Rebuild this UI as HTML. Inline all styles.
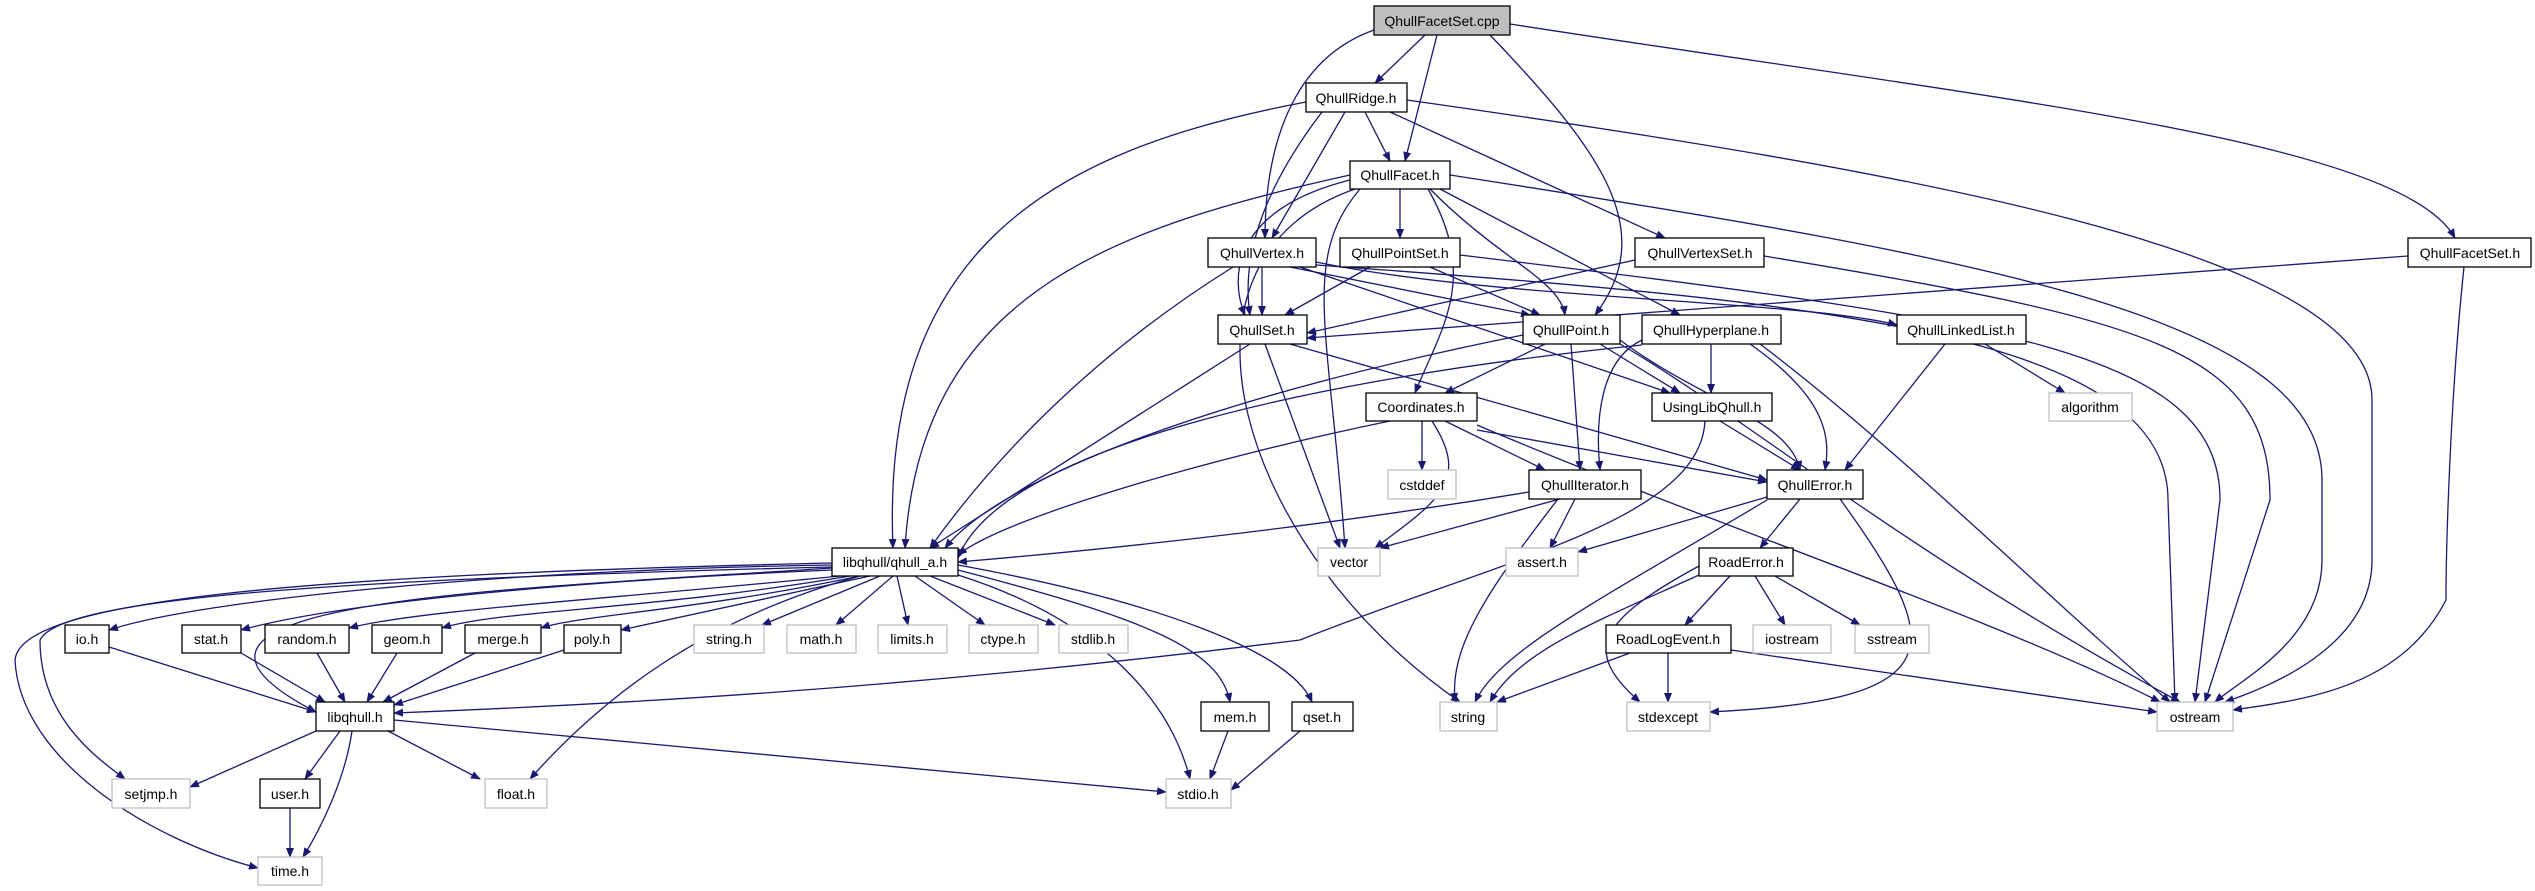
<!DOCTYPE html>
<html><head><meta charset="utf-8"><style>
html,body{margin:0;padding:0;background:#fff;}
svg{display:block;}
text{font-family:"Liberation Sans",sans-serif;font-size:14px;fill:#000;}
.e{fill:none;stroke:#191970;stroke-width:1.3;marker-end:url(#a);}
.n{fill:#fff;stroke:#000;stroke-width:1.3;}
.g{fill:#fff;stroke:#bfbfbf;stroke-width:1.3;}
</style></head><body>
<svg width="2535" height="891" viewBox="0 0 2535 891" xmlns="http://www.w3.org/2000/svg">
<defs><marker id="a" markerWidth="10" markerHeight="8" refX="9" refY="4" orient="auto" markerUnits="userSpaceOnUse"><path d="M0,0 L10,4 L0,8 z" fill="#191970"/></marker></defs>
<g>
<path class="e" d="M1425 35 L1375 83"/>
<path class="e" d="M1437 35 L1405 161"/>
<path class="e" d="M1374 30 C1290 60 1265 150 1265 238"/>
<path class="e" d="M1490 35 C1600 150 1660 230 1595 315"/>
<path class="e" d="M1510 24 C2000 100 2400 140 2455 238"/>
<path class="e" d="M1365 112 L1390 161"/>
<path class="e" d="M1345 112 L1272 238"/>
<path class="e" d="M1322 112 C1270 180 1240 250 1250 315"/>
<path class="e" d="M1390 112 L1665 238"/>
<path class="e" d="M1306 102 C1050 150 880 250 893 548"/>
<path class="e" d="M1407 100 C1900 170 2372 250 2372 400 L2372 560 C2372 650 2260 690 2225 702"/>
<path class="e" d="M1400 189 L1400 238"/>
<path class="e" d="M1430 189 C1500 260 1560 280 1565 315"/>
<path class="e" d="M1440 189 L1680 315"/>
<path class="e" d="M1428 189 C1480 280 1440 330 1415 393"/>
<path class="e" d="M1350 180 C1230 210 1230 280 1245 315"/>
<path class="e" d="M1350 175 C1100 230 920 300 905 548"/>
<path class="e" d="M1360 189 C1300 260 1330 330 1345 548"/>
<path class="e" d="M1355 189 C1150 260 1240 550 1460 702"/>
<path class="e" d="M1450 175 C2000 260 2322 320 2322 480 L2322 560 C2322 640 2240 680 2215 702"/>
<path class="e" d="M1262 267 L1262 315"/>
<path class="e" d="M1290 267 L1530 315"/>
<path class="e" d="M1300 267 L1670 393"/>
<path class="e" d="M1316 262 C1500 300 1800 300 1897 325"/>
<path class="e" d="M1233 267 C1100 350 1000 450 930 548"/>
<path class="e" d="M1316 265 C1800 300 2168 330 2168 500 L2175 702"/>
<path class="e" d="M1370 267 L1285 315"/>
<path class="e" d="M1430 267 L1540 315"/>
<path class="e" d="M1460 255 C2000 320 2220 350 2220 500 L2195 702"/>
<path class="e" d="M1635 260 L1307 333"/>
<path class="e" d="M1764 256 C2150 320 2270 350 2270 500 L2205 702"/>
<path class="e" d="M2408 256 L1307 338"/>
<path class="e" d="M2464 267 C2450 400 2446 550 2446 600 C2400 690 2300 700 2233 710"/>
<path class="e" d="M1250 344 L930 548"/>
<path class="e" d="M1265 344 L1340 548"/>
<path class="e" d="M1290 344 L1767 480"/>
<path class="e" d="M1545 344 L1445 393"/>
<path class="e" d="M1571 344 L1580 470"/>
<path class="e" d="M1600 344 L1680 393"/>
<path class="e" d="M1620 340 C1700 400 1790 420 1800 470"/>
<path class="e" d="M1523 335 C1200 400 1000 480 945 548"/>
<path class="e" d="M1620 344 C1750 420 1900 550 2180 702"/>
<path class="e" d="M1711 344 L1711 393"/>
<path class="e" d="M1642 340 C1600 360 1595 420 1600 470"/>
<path class="e" d="M1750 344 C1830 400 1830 440 1825 470"/>
<path class="e" d="M1642 345 C1300 380 1000 450 958 558"/>
<path class="e" d="M1760 344 C1900 450 2050 600 2170 702"/>
<path class="e" d="M1985 344 L2065 393"/>
<path class="e" d="M1945 344 L1845 470"/>
<path class="e" d="M1422 421 L1422 470"/>
<path class="e" d="M1445 421 L1545 470"/>
<path class="e" d="M1477 430 L1767 482"/>
<path class="e" d="M1432 421 C1470 480 1440 500 1375 548"/>
<path class="e" d="M1390 421 C1200 460 1000 520 958 555"/>
<path class="e" d="M1477 425 C1700 520 2000 620 2160 702"/>
<path class="e" d="M1720 421 L1800 470"/>
<path class="e" d="M1705 421 C1700 520 1500 560 1300 640 C900 690 600 705 394 713"/>
<path class="e" d="M1560 499 L1380 548"/>
<path class="e" d="M1575 499 L1550 548"/>
<path class="e" d="M1558 499 C1480 600 1450 650 1455 702"/>
<path class="e" d="M1529 492 C1300 530 1100 550 958 562"/>
<path class="e" d="M1800 499 L1760 548"/>
<path class="e" d="M1767 497 L1578 552"/>
<path class="e" d="M1767 500 C1600 600 1500 650 1475 702"/>
<path class="e" d="M1840 499 C1950 650 1950 700 1710 712"/>
<path class="e" d="M1730 576 L1685 625"/>
<path class="e" d="M1755 576 L1785 625"/>
<path class="e" d="M1775 576 L1860 625"/>
<path class="e" d="M1699 575 C1600 620 1520 650 1490 702"/>
<path class="e" d="M1699 566 C1600 620 1580 650 1640 702"/>
<path class="e" d="M1630 653 L1497 702"/>
<path class="e" d="M1668 653 L1668 702"/>
<path class="e" d="M1731 650 L2157 712"/>
<path class="e" d="M832 565 C500 570 200 600 109 630"/>
<path class="e" d="M832 570 C600 580 350 600 241 630"/>
<path class="e" d="M840 576 C600 600 420 610 349 628"/>
<path class="e" d="M850 576 C650 610 500 610 442 628"/>
<path class="e" d="M860 576 C700 610 580 615 541 628"/>
<path class="e" d="M870 576 L621 630"/>
<path class="e" d="M880 576 L762 625"/>
<path class="e" d="M893 576 L836 625"/>
<path class="e" d="M897 576 L908 625"/>
<path class="e" d="M915 576 L985 625"/>
<path class="e" d="M930 576 L1055 625"/>
<path class="e" d="M832 568 C500 590 100 600 316 712"/>
<path class="e" d="M958 570 C1150 620 1220 650 1230 702"/>
<path class="e" d="M958 565 C1150 600 1290 650 1312 702"/>
<path class="e" d="M958 575 C1100 620 1170 700 1190 779"/>
<path class="e" d="M860 576 C700 620 600 700 530 779"/>
<path class="e" d="M832 567 C300 580 60 600 40 640 C40 720 100 760 125 779"/>
<path class="e" d="M832 563 C300 575 20 600 15 660 C20 760 150 840 258 868"/>
<path class="e" d="M109 647 L316 712"/>
<path class="e" d="M241 653 L325 702"/>
<path class="e" d="M317 653 L345 702"/>
<path class="e" d="M397 653 L367 702"/>
<path class="e" d="M475 653 L383 702"/>
<path class="e" d="M564 650 L394 705"/>
<path class="e" d="M316 731 L190 787"/>
<path class="e" d="M340 731 L305 779"/>
<path class="e" d="M352 731 C345 780 320 830 303 857"/>
<path class="e" d="M388 731 L480 779"/>
<path class="e" d="M394 720 L1166 792"/>
<path class="e" d="M290 808 L290 857"/>
<path class="e" d="M1228 731 L1210 779"/>
<path class="e" d="M1300 731 L1231 790"/>
</g>
<g>
<rect x="1374" y="6" width="136" height="29" fill="#bfbfbf" stroke="#000" stroke-width="1.3"/><text x="1442" y="26" text-anchor="middle">QhullFacetSet.cpp</text>
<rect class="n" x="1306" y="83" width="101" height="29"/><text x="1356" y="103" text-anchor="middle">QhullRidge.h</text>
<rect class="n" x="1350" y="161" width="100" height="28"/><text x="1400" y="180" text-anchor="middle">QhullFacet.h</text>
<rect class="n" x="1208" y="238" width="108" height="29"/><text x="1262" y="258" text-anchor="middle">QhullVertex.h</text>
<rect class="n" x="1340" y="238" width="120" height="29"/><text x="1400" y="258" text-anchor="middle">QhullPointSet.h</text>
<rect class="n" x="1635" y="238" width="129" height="29"/><text x="1700" y="258" text-anchor="middle">QhullVertexSet.h</text>
<rect class="n" x="2408" y="238" width="123" height="29"/><text x="2470" y="258" text-anchor="middle">QhullFacetSet.h</text>
<rect class="n" x="1218" y="315" width="89" height="29"/><text x="1262" y="335" text-anchor="middle">QhullSet.h</text>
<rect class="n" x="1523" y="315" width="97" height="29"/><text x="1571" y="335" text-anchor="middle">QhullPoint.h</text>
<rect class="n" x="1642" y="315" width="139" height="29"/><text x="1711" y="335" text-anchor="middle">QhullHyperplane.h</text>
<rect class="n" x="1897" y="315" width="129" height="29"/><text x="1961" y="335" text-anchor="middle">QhullLinkedList.h</text>
<rect class="n" x="1366" y="393" width="111" height="28"/><text x="1421" y="412" text-anchor="middle">Coordinates.h</text>
<rect class="n" x="1652" y="393" width="120" height="28"/><text x="1712" y="412" text-anchor="middle">UsingLibQhull.h</text>
<rect class="g" x="2049" y="393" width="83" height="28"/><text x="2090" y="412" text-anchor="middle">algorithm</text>
<rect class="g" x="1388" y="470" width="68" height="29"/><text x="1422" y="490" text-anchor="middle">cstddef</text>
<rect class="n" x="1529" y="470" width="112" height="29"/><text x="1585" y="490" text-anchor="middle">QhullIterator.h</text>
<rect class="n" x="1767" y="470" width="96" height="29"/><text x="1815" y="490" text-anchor="middle">QhullError.h</text>
<rect class="n" x="832" y="548" width="126" height="28" stroke-width="2"/><text x="895" y="567" text-anchor="middle">libqhull/qhull_a.h</text>
<rect class="g" x="1318" y="548" width="62" height="28"/><text x="1349" y="567" text-anchor="middle">vector</text>
<rect class="g" x="1506" y="548" width="72" height="28"/><text x="1542" y="567" text-anchor="middle">assert.h</text>
<rect class="n" x="1699" y="548" width="94" height="28"/><text x="1746" y="567" text-anchor="middle">RoadError.h</text>
<rect class="n" x="65" y="625" width="44" height="28"/><text x="87" y="644" text-anchor="middle">io.h</text>
<rect class="n" x="182" y="625" width="59" height="28"/><text x="211" y="644" text-anchor="middle">stat.h</text>
<rect class="n" x="265" y="625" width="84" height="28"/><text x="307" y="644" text-anchor="middle">random.h</text>
<rect class="n" x="372" y="625" width="70" height="28"/><text x="407" y="644" text-anchor="middle">geom.h</text>
<rect class="n" x="465" y="625" width="76" height="28"/><text x="503" y="644" text-anchor="middle">merge.h</text>
<rect class="n" x="564" y="625" width="57" height="28"/><text x="592" y="644" text-anchor="middle">poly.h</text>
<rect class="g" x="694" y="625" width="70" height="28"/><text x="729" y="644" text-anchor="middle">string.h</text>
<rect class="g" x="787" y="625" width="69" height="28"/><text x="821" y="644" text-anchor="middle">math.h</text>
<rect class="g" x="878" y="625" width="69" height="28"/><text x="912" y="644" text-anchor="middle">limits.h</text>
<rect class="g" x="969" y="625" width="69" height="28"/><text x="1003" y="644" text-anchor="middle">ctype.h</text>
<rect class="g" x="1059" y="625" width="69" height="28"/><text x="1093" y="644" text-anchor="middle">stdlib.h</text>
<rect class="n" x="1606" y="625" width="125" height="28"/><text x="1668" y="644" text-anchor="middle">RoadLogEvent.h</text>
<rect class="g" x="1753" y="625" width="78" height="28"/><text x="1792" y="644" text-anchor="middle">iostream</text>
<rect class="g" x="1855" y="625" width="74" height="28"/><text x="1892" y="644" text-anchor="middle">sstream</text>
<rect class="n" x="316" y="702" width="78" height="29"/><text x="355" y="722" text-anchor="middle">libqhull.h</text>
<rect class="n" x="1201" y="702" width="68" height="29"/><text x="1235" y="722" text-anchor="middle">mem.h</text>
<rect class="n" x="1292" y="702" width="61" height="29"/><text x="1322" y="722" text-anchor="middle">qset.h</text>
<rect class="g" x="1440" y="702" width="57" height="29"/><text x="1468" y="722" text-anchor="middle">string</text>
<rect class="g" x="1627" y="702" width="83" height="29"/><text x="1668" y="722" text-anchor="middle">stdexcept</text>
<rect class="g" x="2157" y="702" width="76" height="29"/><text x="2195" y="722" text-anchor="middle">ostream</text>
<rect class="g" x="112" y="779" width="78" height="29"/><text x="151" y="799" text-anchor="middle">setjmp.h</text>
<rect class="n" x="260" y="779" width="60" height="29"/><text x="290" y="799" text-anchor="middle">user.h</text>
<rect class="g" x="485" y="779" width="62" height="29"/><text x="516" y="799" text-anchor="middle">float.h</text>
<rect class="g" x="1166" y="779" width="65" height="29"/><text x="1198" y="799" text-anchor="middle">stdio.h</text>
<rect class="g" x="258" y="857" width="64" height="28"/><text x="290" y="876" text-anchor="middle">time.h</text>
</g>
</svg>
</body></html>
